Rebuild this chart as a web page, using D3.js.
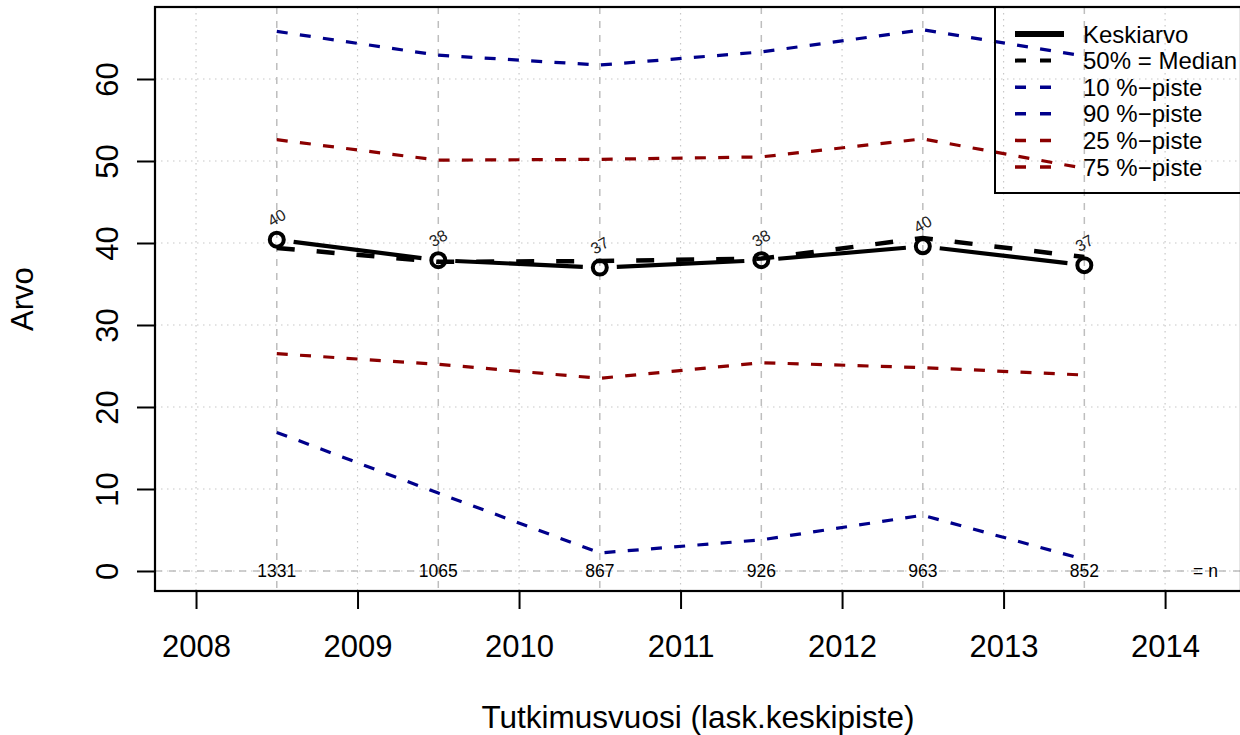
<!DOCTYPE html>
<html>
<head>
<meta charset="utf-8">
<script src="https://cdn.jsdelivr.net/npm/d3@7"></script>
<style>
  body { margin: 0; background: #fff; }
  svg { display: block; font-family: "Liberation Sans", Arial, sans-serif; }
</style>
</head>
<body>
<div id="chart"></div>
<script>
// data
const years = [2008.5, 2009.5, 2010.5, 2011.5, 2012.5, 2013.5];
const meanValues = [40.4, 37.9, 37.0, 37.9, 39.6, 37.3];
const medianValues = [39.4, 37.7, 37.8, 38.1, 40.6, 38.3];
const p10Values = [16.9, 9.5, 2.2, 3.8, 6.8, 1.4];
const p90Values = [65.8, 62.9, 61.7, 63.3, 66.0, 62.8];
const p25Values = [26.5, 25.2, 23.5, 25.4, 24.8, 23.9];
const p75Values = [52.6, 50.1, 50.2, 50.5, 52.7, 49.1];
const nValues = [1331, 1065, 867, 926, 963, 852];
const xTicks = [2008, 2009, 2010, 2011, 2012, 2013, 2014];
const yTicks = [0, 10, 20, 30, 40, 50, 60];

const legendItems = [
  { label: "Keskiarvo", color: "#000", dash: null, width: 6 },
  { label: "50% = Median", color: "#000", dash: "11,14", width: 4 },
  { label: "10 %\u2212piste", color: "#00008b", dash: "11,14", width: 3.5 },
  { label: "90 %\u2212piste", color: "#00008b", dash: "11,14", width: 3.5 },
  { label: "25 %\u2212piste", color: "#8b0000", dash: "11,14", width: 3.5 },
  { label: "75 %\u2212piste", color: "#8b0000", dash: "11,14", width: 3.5 }
];

const width = 1240;
const height = 735;
const plotLeft = 155, plotRight = 1241, plotTop = 7, plotBottom = 591;

const x = d3.scaleLinear().domain([2007.746, 2014.47]).range([plotLeft, plotRight]);
const y = d3.scaleLinear().domain([-2.44, 68.78]).range([plotBottom, plotTop]);

const svg = d3.select("#chart").append("svg")
  .attr("width", width)
  .attr("height", height);

// grid (dotted)
svg.append("g").selectAll("line")
  .data(xTicks).enter().append("line")
  .attr("x1", d => x(d)).attr("x2", d => x(d))
  .attr("y1", plotTop).attr("y2", plotBottom)
  .attr("stroke", "#c8c8c8").attr("stroke-width", 1.2)
  .attr("stroke-dasharray", "1.5,4.5");

svg.append("g").selectAll("line")
  .data(yTicks).enter().append("line")
  .attr("x1", plotLeft).attr("x2", plotRight)
  .attr("y1", d => y(d)).attr("y2", d => y(d))
  .attr("stroke", "#c8c8c8").attr("stroke-width", 1.2)
  .attr("stroke-dasharray", "1.5,4.5");

// dashed guides at the measurement years and at zero
svg.append("g").selectAll("line")
  .data(years).enter().append("line")
  .attr("x1", d => x(d)).attr("x2", d => x(d))
  .attr("y1", plotTop).attr("y2", plotBottom)
  .attr("stroke", "#bebebe").attr("stroke-width", 1.5)
  .attr("stroke-dasharray", "7,7");

svg.append("line")
  .attr("x1", plotLeft).attr("x2", plotRight)
  .attr("y1", y(0)).attr("y2", y(0))
  .attr("stroke", "#bebebe").attr("stroke-width", 1.5)
  .attr("stroke-dasharray", "7,7");

// percentile lines
const line = d3.line().x(d => x(d[0])).y(d => y(d[1]));
const zipped = vals => years.map((yr, i) => [yr, vals[i]]);

const series = [
  { vals: p90Values, color: "#00008b" },
  { vals: p75Values, color: "#8b0000" },
  { vals: p25Values, color: "#8b0000" },
  { vals: p10Values, color: "#00008b" }
];
series.forEach(s => {
  svg.append("path")
    .attr("d", line(zipped(s.vals)))
    .attr("fill", "none")
    .attr("stroke", s.color)
    .attr("stroke-width", 3.2)
    .attr("stroke-dasharray", "11,12.3");
});

// median
svg.append("path")
  .attr("d", line(zipped(medianValues)))
  .attr("fill", "none")
  .attr("stroke", "#000")
  .attr("stroke-width", 4.5)
  .attr("stroke-dasharray", "18,22");

// mean, type "b": segments with gaps around points
const gap = 17;
const segs = d3.pairs(zipped(meanValues)).map(([a, b]) => {
  const x0 = x(a[0]), y0 = y(a[1]), x1 = x(b[0]), y1 = y(b[1]);
  const len = Math.hypot(x1 - x0, y1 - y0);
  const ux = (x1 - x0) / len, uy = (y1 - y0) / len;
  return [x0 + ux * gap, y0 + uy * gap, x1 - ux * gap, y1 - uy * gap];
});
svg.append("g").selectAll("line")
  .data(segs).enter().append("line")
  .attr("x1", d => d[0]).attr("y1", d => d[1])
  .attr("x2", d => d[2]).attr("y2", d => d[3])
  .attr("stroke", "#000").attr("stroke-width", 4.2);

svg.append("g").selectAll("circle")
  .data(zipped(meanValues)).enter().append("circle")
  .attr("cx", d => x(d[0])).attr("cy", d => y(d[1]))
  .attr("r", 7)
  .attr("fill", "none")
  .attr("stroke", "#000")
  .attr("stroke-width", 4);

// mean labels, rotated
svg.append("g").selectAll("text")
  .data(zipped(meanValues)).enter().append("text")
  .attr("transform", d => `translate(${x(d[0])},${y(d[1]) - 22}) rotate(-30)`)
  .attr("text-anchor", "middle")
  .attr("dominant-baseline", "central")
  .attr("font-size", 16)
  .attr("fill", "#222")
  .text(d => Math.round(d[1]));

// n labels on the zero line
svg.append("g").selectAll("text")
  .data(nValues).enter().append("text")
  .attr("x", (d, i) => x(years[i]))
  .attr("y", y(0))
  .attr("text-anchor", "middle")
  .attr("dominant-baseline", "central")
  .attr("font-size", 17.5)
  .text(d => d);

svg.append("text")
  .attr("x", x(d3.max(years) + 0.75))
  .attr("y", y(0))
  .attr("text-anchor", "middle")
  .attr("dominant-baseline", "central")
  .attr("font-size", 17.5)
  .text("= n");

// axes
const xAxis = d3.axisBottom(x).tickValues(xTicks).tickSize(18).tickPadding(26)
  .tickFormat(d3.format("d"));
const gx = svg.append("g").attr("transform", `translate(0,${plotBottom})`).call(xAxis);
gx.select(".domain").remove();
gx.selectAll("line").attr("stroke", "#000").attr("stroke-width", 2);
gx.selectAll("text").attr("font-size", 31).attr("fill", "#000")
  .attr("font-family", "Liberation Sans, Arial, sans-serif");

const yAxis = d3.axisLeft(y).tickValues(yTicks).tickSize(18);
const gy = svg.append("g").attr("transform", `translate(${plotLeft},0)`).call(yAxis);
gy.select(".domain").remove();
gy.selectAll("line").attr("stroke", "#000").attr("stroke-width", 2);
gy.selectAll("text").remove();
gy.selectAll(".tick").append("text")
  .attr("transform", "translate(-37,0) rotate(-90)")
  .attr("text-anchor", "middle")
  .attr("font-size", 31)
  .attr("fill", "#000")
  .attr("font-family", "Liberation Sans, Arial, sans-serif")
  .text(d => d);

// plot box
svg.append("rect")
  .attr("x", plotLeft).attr("y", plotTop)
  .attr("width", plotRight - plotLeft).attr("height", plotBottom - plotTop)
  .attr("fill", "none").attr("stroke", "#000").attr("stroke-width", 2.2);

// axis titles
svg.append("text")
  .attr("x", (plotLeft + plotRight) / 2).attr("y", 728)
  .attr("text-anchor", "middle")
  .attr("font-size", 31.5)
  .text("Tutkimusvuosi (lask.keskipiste)");

svg.append("text")
  .attr("transform", `translate(33,${(plotTop + plotBottom) / 2}) rotate(-90)`)
  .attr("text-anchor", "middle")
  .attr("font-size", 31)
  .text("Arvo");

// legend
const legend = svg.append("g");
legend.append("rect")
  .attr("x", 995).attr("y", plotTop)
  .attr("width", 260).attr("height", 186)
  .attr("fill", "none").attr("stroke", "#000").attr("stroke-width", 2);

const rowY = d3.scaleLinear().domain([0, 5]).range([34, 167]);
const rows = legend.selectAll("g.row").data(legendItems).enter().append("g")
  .attr("class", "row")
  .attr("transform", (d, i) => `translate(0,${rowY(i)})`);
rows.append("line")
  .attr("x1", 1015).attr("x2", 1064)
  .attr("stroke", d => d.color)
  .attr("stroke-width", d => d.width)
  .attr("stroke-dasharray", d => d.dash);
rows.append("text")
  .attr("x", 1083)
  .attr("dominant-baseline", "central")
  .attr("font-size", 24)
  .text(d => d.label);
</script>
</body>
</html>
